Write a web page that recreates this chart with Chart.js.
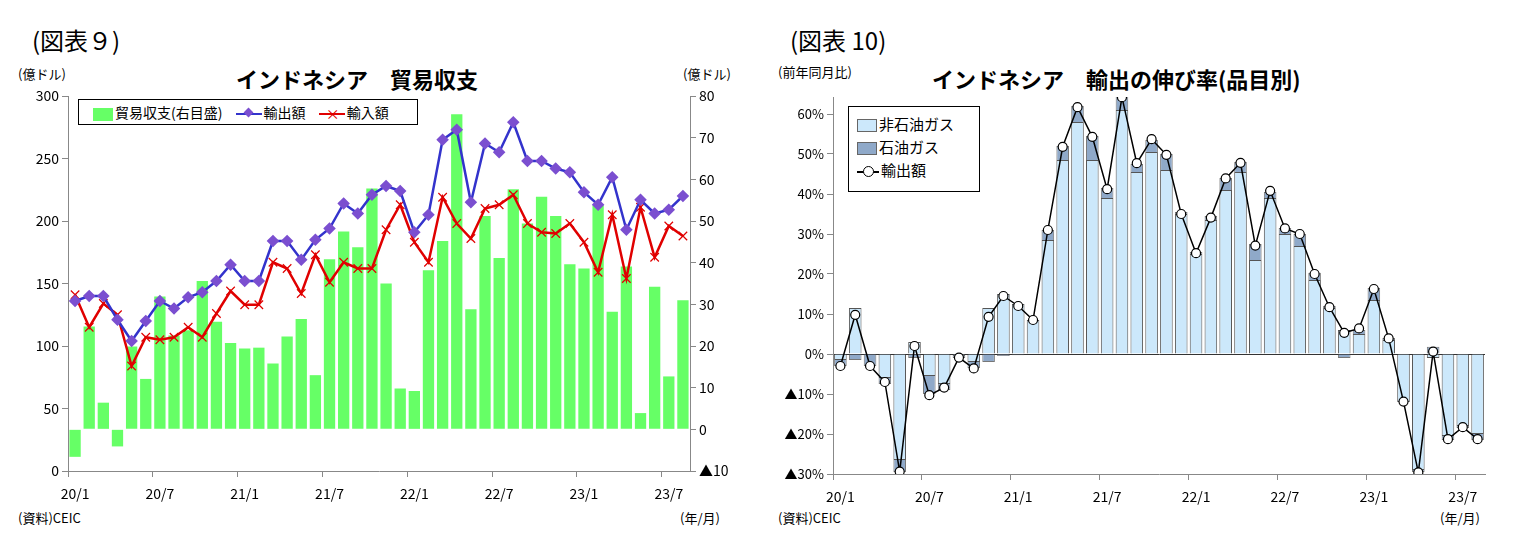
<!DOCTYPE html>
<html>
<head>
<meta charset="utf-8">
<script src="https://cdn.jsdelivr.net/npm/chart.js@4.4.1/dist/chart.umd.min.js"></script>
<style>
    body { margin: 0; background: #fff; font-family: "Noto Sans CJK JP", sans-serif; }
    #wrap { position: relative; width: 1517px; height: 554px; }
    .t { position: absolute; white-space: nowrap; color: #000; }
    .cv { position: absolute; }
    .legend { position: absolute; border: 1px solid #000; background: #fff; font-size: 14px; }
    .sw { display: inline-block; vertical-align: middle; }
</style>
</head>
<body>
<div id="wrap">
    <div class="t" style="left:32px;top:22px;font-size:24px;">(図表９)</div>
    <div class="t" style="left:18px;top:64px;font-size:13px;">(億ドル)</div>
    <div class="t" style="left:683px;top:64px;font-size:13px;">(億ドル)</div>
    <div class="t" style="left:236px;top:62px;font-size:22px;font-weight:bold;">インドネシア　貿易収支</div>
    <div class="t" style="left:18px;top:508px;font-size:13px;">(資料)CEIC</div>
    <div class="t" style="left:680px;top:508px;font-size:13px;">(年/月)</div>

    <div class="t" style="left:790px;top:22px;font-size:24px;">(図表 10)</div>
    <div class="t" style="left:778px;top:62px;font-size:13px;">(前年同月比)</div>
    <div class="t" style="left:932px;top:62px;font-size:22px;font-weight:bold;">インドネシア　輸出の伸び率(品目別)</div>
    <div class="t" style="left:778px;top:508px;font-size:13px;">(資料)CEIC</div>
    <div class="t" style="left:1440px;top:508px;font-size:13px;">(年/月)</div>

    <canvas id="c1" class="cv" style="left:0;top:80px;" width="740" height="430"></canvas>
    <canvas id="c2" class="cv" style="left:760px;top:80px;" width="740" height="430"></canvas>

    <div class="legend" style="left:78px;top:99px;width:338px;height:24px;line-height:24px;">
        <span class="sw" style="width:20px;height:13px;background:#66ff66;margin:0 2px 0 14px;"></span>貿易収支(右目盛)
        <span class="sw" style="width:26px;height:2px;background:#3333cc;margin:0 2px 0 10px;position:relative;"><span style="position:absolute;left:9px;top:-4px;width:7px;height:7px;background:#7b4fd0;transform:rotate(45deg);"></span></span>輸出額
        <span class="sw" style="width:26px;height:2px;background:#e00000;margin:0 2px 0 10px;position:relative;"><span style="position:absolute;left:7px;top:-11px;width:12px;line-height:22px;text-align:center;color:#e00000;font-size:14px;">×</span></span>輸入額
    </div>
    <div class="legend" style="left:848px;top:106px;width:130px;height:84px;font-size:15px;">
        <div style="margin:6px 0 0 8px;"><span class="sw" style="width:18px;height:11px;background:#cce8fb;border:1px solid #666;margin-right:2px;"></span>非石油ガス</div>
        <div style="margin:2px 0 0 8px;"><span class="sw" style="width:18px;height:11px;background:#8fa9c9;border:1px solid #666;margin-right:2px;"></span>石油ガス</div>
        <div style="margin:2px 0 0 8px;"><span class="sw" style="width:22px;height:2px;background:#000;position:relative;margin-right:2px;"><span style="position:absolute;left:6px;top:-5px;width:9px;height:9px;border:1.5px solid #000;border-radius:50%;background:#fff;"></span></span>輸出額</div>
    </div>
</div>
<script>
var months = ['20/1','20/2','20/3','20/4','20/5','20/6','20/7','20/8','20/9','20/10','20/11','20/12',
    '21/1','21/2','21/3','21/4','21/5','21/6','21/7','21/8','21/9','21/10','21/11','21/12',
    '22/1','22/2','22/3','22/4','22/5','22/6','22/7','22/8','22/9','22/10','22/11','22/12',
    '23/1','23/2','23/3','23/4','23/5','23/6','23/7','23/8'];

// left chart: trade (億ドル)
var tradeBalance = [-6.6, 24.7, 6.4, -4.1, 19.9, 12.1, 31.9, 22.5, 23.8, 35.6, 25.8, 20.7,
    19.4, 19.6, 15.8, 22.3, 26.5, 13.0, 40.8, 47.5, 43.7, 57.8, 35.0, 9.8,
    9.2, 38.2, 45.2, 75.6, 28.8, 51.2, 41.1, 57.6, 49.4, 55.8, 51.2, 39.6,
    38.6, 53.8, 28.2, 39.1, 3.9, 34.2, 12.7, 31.0];
var exports = [136, 140, 140, 121, 104, 120, 136, 130, 139, 143, 152, 165,
    152, 152, 184, 184, 169, 185, 194, 214, 206, 221, 228, 224,
    191, 205, 265, 273, 215, 262, 255, 279, 248, 248, 242, 239,
    223, 213, 235, 193, 217, 206, 209, 220];
var imports = [141, 115, 134, 125, 84, 107, 105, 107, 115, 107, 126, 144,
    133, 133, 167, 162, 142, 173, 151, 167, 162, 162, 193, 213,
    183, 167, 219, 198, 186, 210, 213, 221, 198, 191, 190, 198,
    183, 159, 205, 154, 211, 171, 196, 188];
var leftTicks = [0, 50, 100, 150, 200, 250, 300];
var rightTicks = [-10, 0, 10, 20, 30, 40, 50, 60, 70, 80];

// right chart: export growth (%)
var nonOilGas = [-1.5, 11.5, 0, -6, -26.5, 3, -5.5, -7.5, -0.5, -2, 11.5, 15,
    12.5, 8.5, 28.5, 48.5, 58, 48.5, 39, 61, 45.5, 50.5, 46, 35,
    25, 33.5, 41, 45.5, 23.5, 39, 30, 27, 18.5, 11.5, 6, 5,
    13.5, 3.5, -12, -29, -1, -20.5, -18, -20];
var oilGas = [-1.5, -1.5, -3, -1.5, -3, -1, -4.5, -1.5, -0.5, -1.5, -2, -0.5,
    -0.3, 0, 2.5, 3.5, 4, 6, 2.5, 3.5, 2, 3, 4, 0.5,
    0.5, 1, 3, 2.5, 4, 1.5, 1.5, 3, 1.8, 0.5, -1, 1,
    3, 0.5, 0, -0.5, 1.8, -1, -0.5, -1.5];
var exportGrowth = [-3, 9.8, -3, -7, -29.4, 2, -10.3, -8.4, -0.9, -3.6, 9.3, 14.5,
    12, 8.5, 31, 51.8, 61.7, 54.3, 41.2, 64.2, 47.7, 53.7, 49.8, 35,
    25.2, 34.1, 43.9, 47.8, 27.1, 40.8, 31.4, 30, 20, 11.7, 5.3, 6.4,
    16.25, 3.9, -11.9, -29.6, 0.6, -21.3, -18.3, -21.3];
var pctTicks = [-30, -20, -10, 0, 10, 20, 30, 40, 50, 60];

var tickFont = { family: '"Noto Sans CJK JP", sans-serif', size: 14 };

function keepTicks(list) {
    return function (scale) {
        scale.ticks = list.map(function (v) { return { value: v }; });
    };
}
function fixWidth(w) { return function (scale) { scale.width = w; }; }
function fixHeight(h) { return function (scale) { scale.height = h; }; }
function every6(val, i) { return i % 6 === 0 ? months[i] : ''; }
function tick6(ctx) { return ctx.index % 6 === 0 ? '#888' : 'rgba(0,0,0,0)'; }
function tri(v, suffix) { return v < 0 ? '▲' + Math.abs(v) + suffix : v + suffix; }

var xAxis = {
    offset: true,
    ticks: { autoSkip: false, maxRotation: 0, color: '#000', font: tickFont, callback: every6, padding: 8 },
    grid: { drawOnChartArea: false, tickLength: 6, tickColor: tick6, offset: true },
    border: { color: '#888' }
};

new Chart(document.getElementById('c1'), {
    data: {
        labels: months,
        datasets: [
            { type: 'line', label: '輸出額', data: exports, yAxisID: 'y', borderColor: '#3333cc', borderWidth: 2.5,
              pointStyle: 'rectRot', pointRadius: 4.5, pointBackgroundColor: '#7b4fd0', pointBorderColor: '#7b4fd0', tension: 0, order: 1 },
            { type: 'line', label: '輸入額', data: imports, yAxisID: 'y', borderColor: '#e00000', borderWidth: 2.5,
              pointStyle: 'crossRot', pointRadius: 6, pointBorderColor: '#e00000', pointBorderWidth: 1.2, tension: 0, order: 2 },
            { type: 'bar', label: '貿易収支(右目盛)', data: tradeBalance, yAxisID: 'y1', backgroundColor: '#66ff66',
              barPercentage: 0.8, categoryPercentage: 1, order: 3 }
        ]
    },
    options: {
        responsive: false,
        animation: false,
        layout: { padding: { top: 16, right: 0, left: 0 } },
        plugins: { legend: { display: false }, tooltip: { enabled: false } },
        scales: {
            x: Object.assign({}, xAxis, { afterFit: fixHeight(39) }),
            y: {
                position: 'left', min: 0, max: 300,
                afterBuildTicks: keepTicks(leftTicks), afterFit: fixWidth(68),
                ticks: { color: '#000', font: tickFont },
                grid: { drawOnChartArea: false, tickLength: 6, tickColor: '#888' },
                border: { color: '#888' }
            },
            y1: {
                position: 'right', min: -10, max: 80,
                afterBuildTicks: keepTicks(rightTicks), afterFit: fixWidth(50),
                ticks: { color: '#000', font: tickFont, callback: function (v) { return tri(v, ''); } },
                grid: { drawOnChartArea: false, tickLength: 6, tickColor: '#888' },
                border: { color: '#888' }
            }
        }
    }
});

new Chart(document.getElementById('c2'), {
    data: {
        labels: months,
        datasets: [
            { type: 'line', label: '輸出額', data: exportGrowth, borderColor: '#000', borderWidth: 1.5, tension: 0,
              pointRadius: 4.5, pointBackgroundColor: '#fff', pointBorderColor: '#000', pointBorderWidth: 1.2, order: 1 },
            { type: 'bar', label: '非石油ガス', data: nonOilGas, stack: 's', backgroundColor: '#cce8fb',
              borderColor: '#555', borderWidth: 1, barPercentage: 0.85, categoryPercentage: 1, order: 2 },
            { type: 'bar', label: '石油ガス', data: oilGas, stack: 's', backgroundColor: '#8fa9c9',
              borderColor: '#777', borderWidth: 1, barPercentage: 0.85, categoryPercentage: 1, order: 3 }
        ]
    },
    options: {
        responsive: false,
        animation: false,
        layout: { padding: { top: 17, right: 15 } },
        plugins: { legend: { display: false }, tooltip: { enabled: false } },
        scales: {
            x: Object.assign({}, xAxis, { stacked: true, afterFit: fixHeight(36) }),
            y: {
                stacked: true, min: -30, max: 64.25,
                afterBuildTicks: keepTicks(pctTicks), afterFit: fixWidth(73),
                ticks: { color: '#000', font: { family: tickFont.family, size: 13 }, callback: function (v) { return tri(v, '%'); } },
                grid: {
                    tickLength: 6, tickColor: '#888',
                    color: function (ctx) { return ctx.tick && ctx.tick.value === 0 ? '#333' : 'rgba(0,0,0,0)'; }
                },
                border: { color: '#888' }
            }
        }
    }
});
</script>
</body>
</html>
